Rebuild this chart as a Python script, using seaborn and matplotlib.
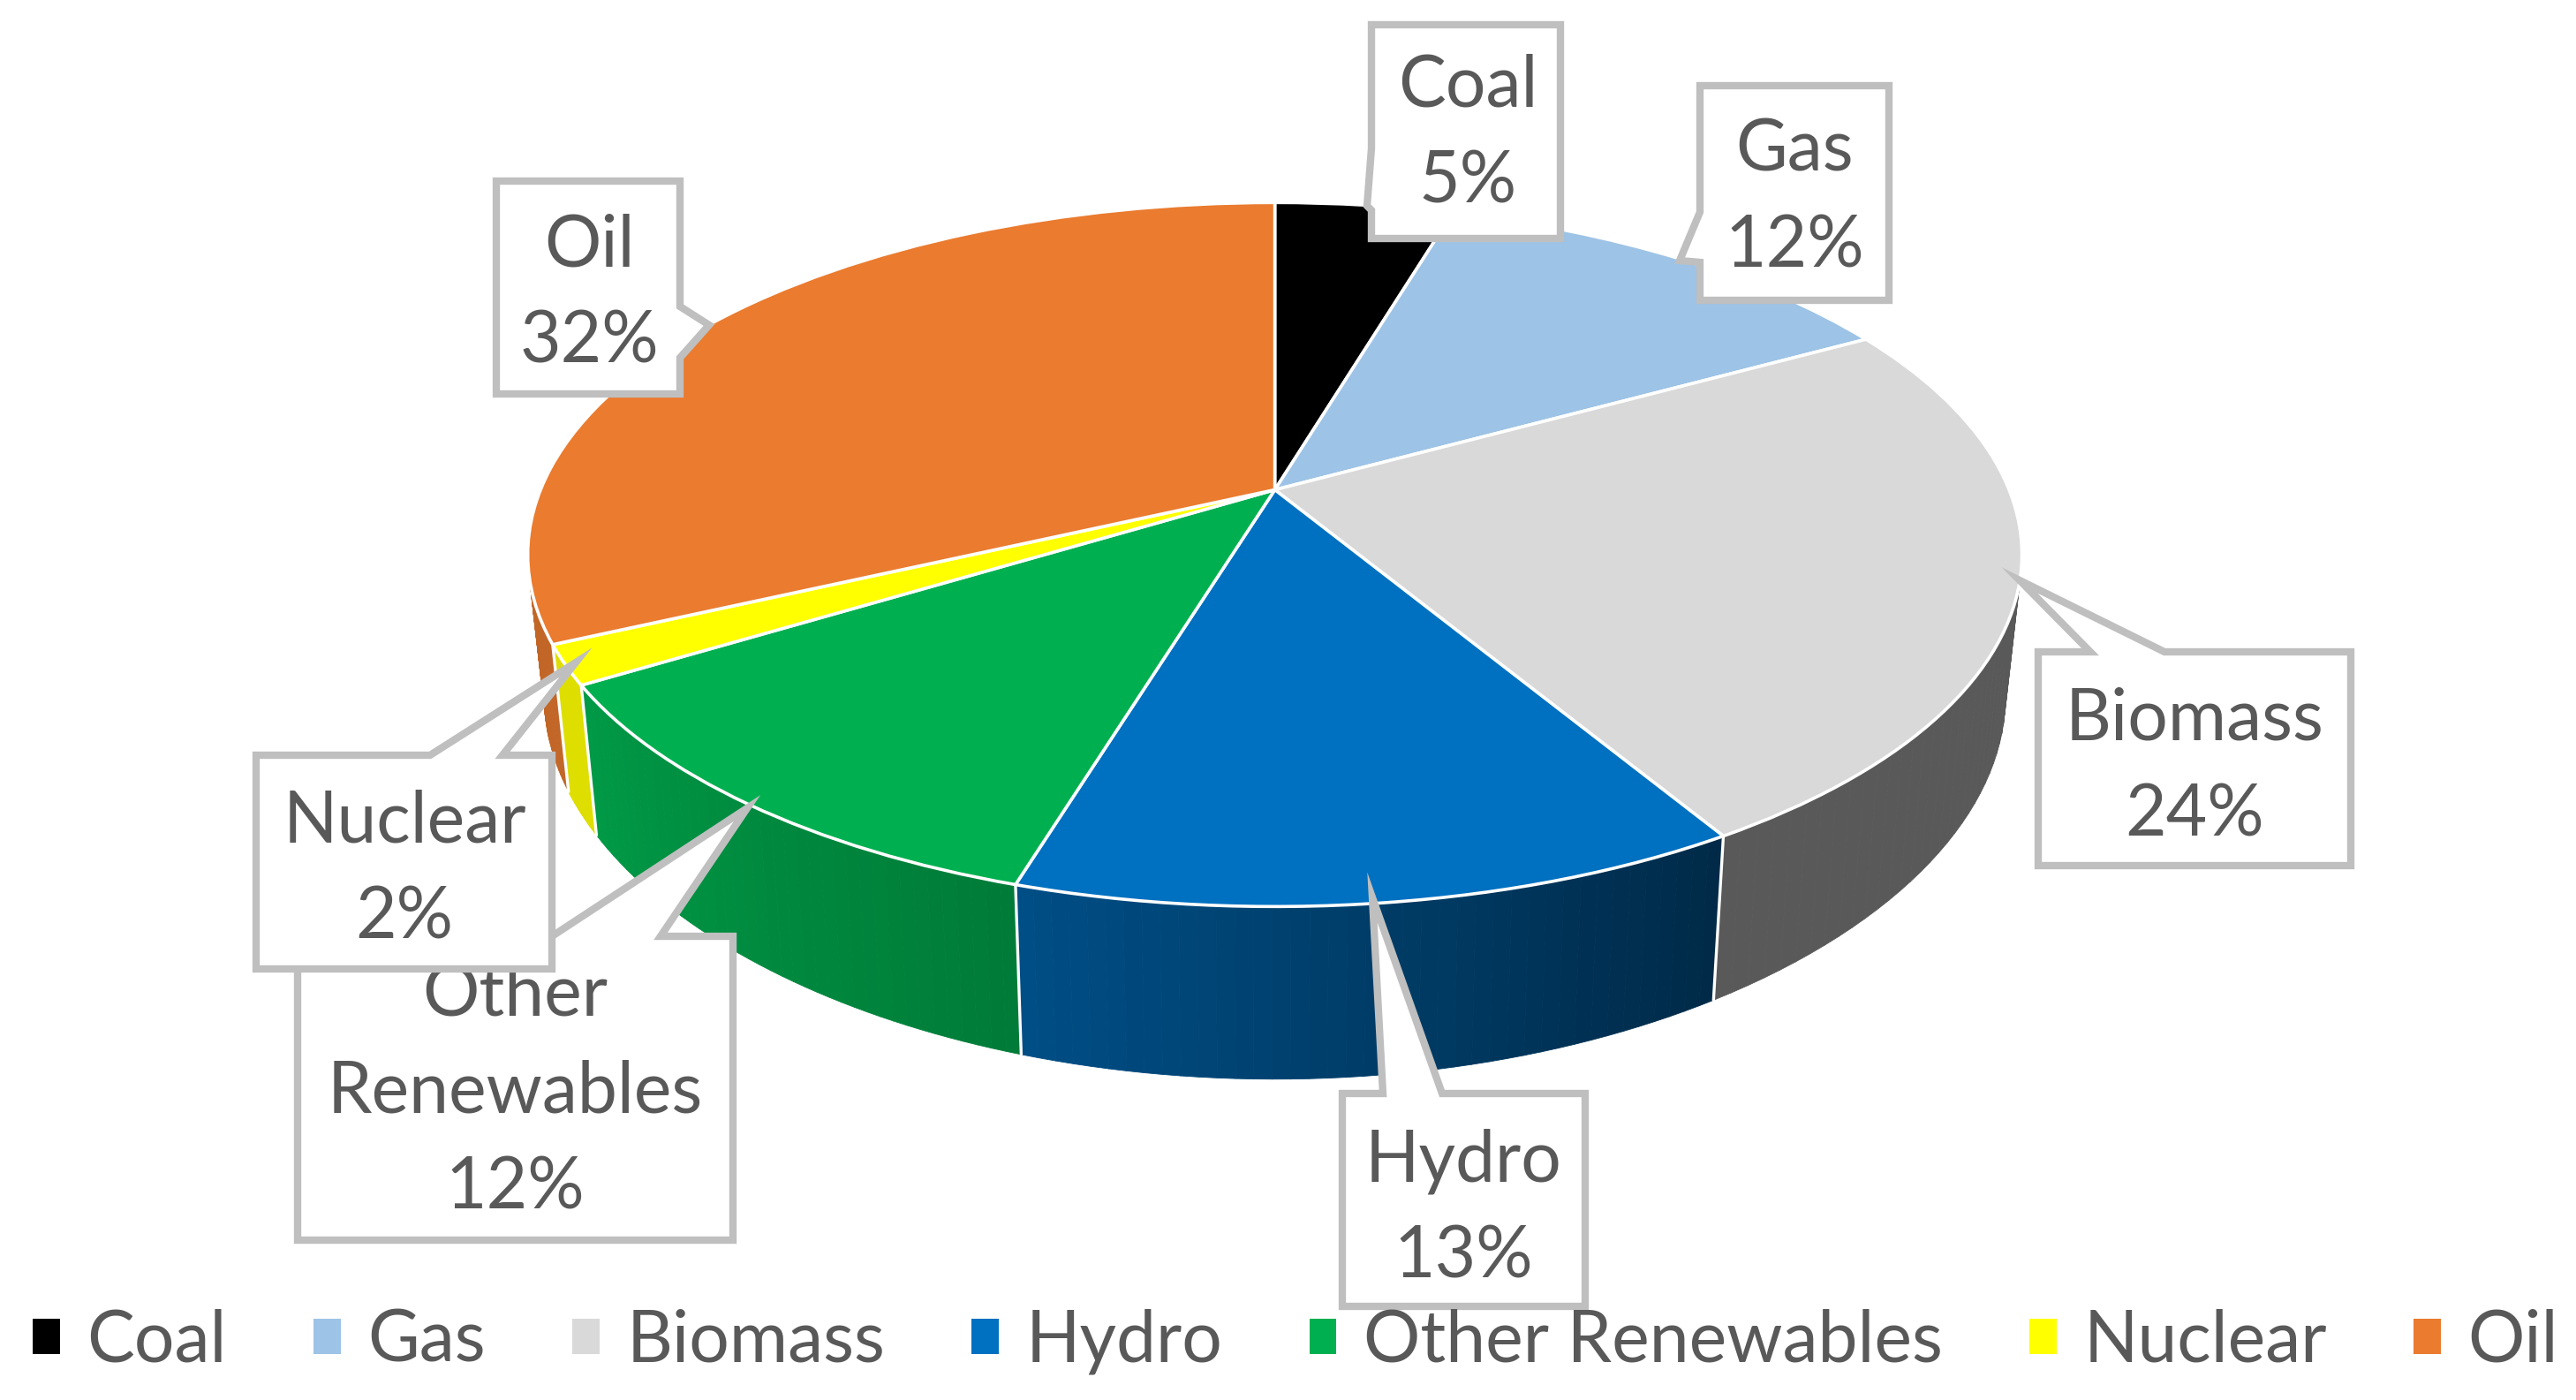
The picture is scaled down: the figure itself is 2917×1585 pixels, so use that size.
import numpy as np
import matplotlib
matplotlib.use("Agg")
import matplotlib.pyplot as plt
from matplotlib.collections import PolyCollection
from matplotlib.patches import Patch, Polygon
from matplotlib.transforms import Transform
import seaborn as sns

sources = ["Coal", "Gas", "Biomass", "Hydro", "Other Renewables", "Nuclear", "Oil"]
shares = [4.6, 12.4, 24.4, 13.3, 11.6, 1.8, 31.9]
top_colors = ["#000000", "#9DC3E6", "#D9D9D9", "#0070C0", "#00B050", "#FFFF00", "#EA7B2F"]

# wall shading, left end and right end of each slice
shade_left = [0.4, 0.4, 0.41, 0.70, 0.875, 0.87, 0.83]
shade_right = [0.4, 0.4, 0.41, 0.37, 0.70, 0.87, 0.83]

# callout outlines in picture pixels
callouts = {
    "Coal": [(1553, 28), (1767, 28), (1767, 270), (1553, 270), (1553, 238), (1548, 233), (1553, 168)],
    "Gas": [(1925, 97), (2139, 97), (2139, 340), (1925, 340), (1925, 297), (1902, 295), (1925, 240)],
    "Biomass": [(2308, 738), (2367, 738), (2287, 657), (2451, 738), (2662, 738), (2662, 980), (2308, 980)],
    "Hydro": [(1520, 1238), (1566, 1238), (1554, 1016), (1633, 1238), (1795, 1238), (1795, 1479), (1520, 1479)],
    "Other Renewables": [(337, 1060), (625, 1060), (846, 915), (748, 1060), (830, 1060), (830, 1404), (337, 1404)],
    "Nuclear": [(290, 855), (487, 855), (652, 750), (569, 855), (625, 855), (625, 1097), (290, 1097)],
    "Oil": [(562, 205), (770, 205), (770, 347), (803, 368), (770, 405), (770, 446), (562, 446)],
}
boxes = {
    "Coal": (1662, 152), "Gas": (2032, 225), "Biomass": (2485, 869), "Hydro": (1657, 1369),
    "Other Renewables": (583, 1236), "Nuclear": (458, 985), "Oil": (667, 333),
}
wrapped = {"Other Renewables": "Other\nRenewables"}

CX, CY, A, B, K = 1443.6, 554.5, 831.5, 385.0, 0.184
CY_B, B_B, K_B, S_B = 712.4, 397.3, 0.22, 0.978


class Tilt(Transform):
    input_dims = 2
    output_dims = 2
    is_separable = False
    has_inverse = False

    def transform_non_affine(self, values):
        values = np.asarray(values)
        w = 1 + K * values[:, 1]
        return np.column_stack([CX + A * values[:, 0] / w, CY - B * values[:, 1] / w])


def rim_top(phi):
    x, y = np.cos(phi), np.sin(phi)
    w = 1 + K * y
    return np.column_stack([CX + A * x / w, CY - B * y / w])


def rim_bottom(phi):
    x, y = np.cos(phi), np.sin(phi)
    return np.column_stack([CX + S_B * A * x / (1 + K * y), CY_B - B_B * y / (1 + K_B * y)])


sns.set_theme(style="white")
plt.rcParams["font.family"] = ["Lato", "DejaVu Sans"]
palette = sns.color_palette(top_colors)
text_color = "#595959"
label_size = 58

fig = plt.figure(figsize=(29.17, 15.85), dpi=100, facecolor="white")
ax = fig.add_axes([0, 0, 1, 1])

wedges, _ = ax.pie(shares, colors=palette, startangle=90, counterclock=False,
                   wedgeprops={"edgecolor": "white", "linewidth": 2.6, "joinstyle": "round"})
ax.set_aspect("auto")
ax.set_xlim(0, 2917)
ax.set_ylim(1585, 0)
ax.axis("off")

tilt = Tilt() + ax.transData
for wedge in wedges:
    wedge.set_transform(tilt)
    wedge.set_zorder(2)

for i, wedge in enumerate(wedges):
    lo = max(wedge.theta1, -180)
    hi = min(wedge.theta2, 0)
    if lo >= hi:
        continue
    edges = np.radians(np.linspace(lo, hi, 41))
    strips = []
    strip_colors = []
    for j in range(40):
        pair = edges[j:j + 2]
        strips.append(np.vstack([rim_top(pair), rim_bottom(pair)[::-1]]))
        t = (j + 0.5) / 40
        strip_colors.append(np.array(palette[i]) * (shade_left[i] + (shade_right[i] - shade_left[i]) * t))
    ax.add_collection(PolyCollection(strips, facecolors=strip_colors, edgecolors=strip_colors,
                                     linewidths=0.6, zorder=1))
    # white seam on the wall where the next slice starts
    if lo > -180:
        seam = np.array([np.radians(lo)])
        ax.plot([rim_top(seam)[0, 0], rim_bottom(seam)[0, 0]],
                [rim_top(seam)[0, 1], rim_bottom(seam)[0, 1]],
                color="white", lw=2.4, zorder=1.5)

z = 3.0
for name in ["Coal", "Gas", "Biomass", "Hydro", "Other Renewables", "Nuclear", "Oil"]:
    ax.add_patch(Polygon(callouts[name], closed=True, facecolor="white", edgecolor="#BFBFBF",
                         linewidth=6, joinstyle="miter", zorder=z))
    value = shares[sources.index(name)]
    ax.text(boxes[name][0], boxes[name][1], f"{wrapped.get(name, name)}\n{value:.0f}%",
            ha="center", va="center", color=text_color, fontsize=label_size,
            linespacing=1.59, zorder=z + 0.1)
    z += 0.2

handles = [Patch(facecolor=c, edgecolor="none") for c in palette]
ax.legend(handles, sources, ncol=7, frameon=False, loc="center", bbox_to_anchor=(1467, 1519),
          bbox_transform=ax.transData, fontsize=label_size, labelcolor=text_color,
          handlelength=0.38, handleheight=0.38, handletextpad=0.38, columnspacing=1.22,
          borderpad=0, borderaxespad=0)

plt.savefig("out.png", dpi=100)
